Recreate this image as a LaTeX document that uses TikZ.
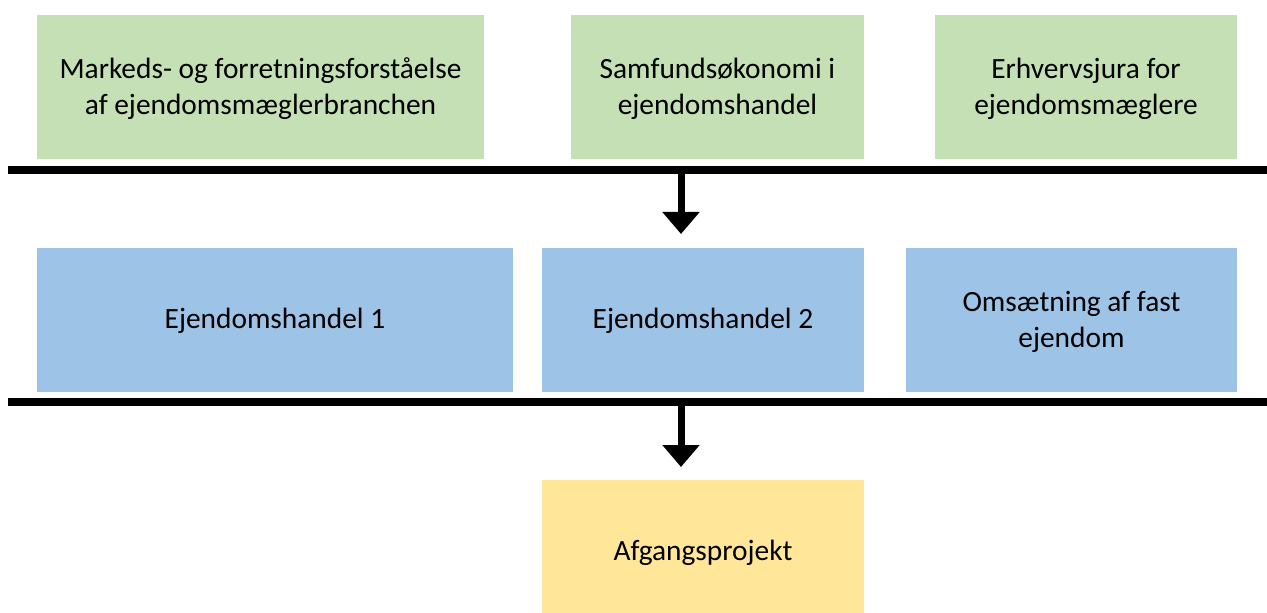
\documentclass[tikz,border=0pt]{standalone}
\usepackage{fontspec}
\setmainfont{Carlito}
\usetikzlibrary{arrows.meta}
\definecolor{cgreen}{HTML}{C5E0B4}
\definecolor{cblue}{HTML}{9DC3E6}
\definecolor{cyellow}{HTML}{FFE699}
\begin{document}
\begin{tikzpicture}[x=1bp,y=-1bp,
  box/.style={rectangle,inner sep=0pt,align=center,font=\fontsize{29.5}{36}\selectfont,text=black},
  bar/.style={line width=7.5bp,line cap=butt},
  down/.style={line width=7bp,-{Triangle[length=22bp,width=36bp]}}]
\useasboundingbox (0,0) rectangle (1267,613);
% boxes: corners given in pixels
\newcommand{\mybox}[6]{%
  \node[box,fill=#6,minimum width={(#3-#1)*1bp},minimum height={(#4-#2)*1bp}] (#5) at ({(#1+#3)/2},{(#2+#4)/2}) {};}
\mybox{37}{15}{484}{159}{g1}{cgreen}
\mybox{571}{15}{864}{159}{g2}{cgreen}
\mybox{935}{15}{1237}{159}{g3}{cgreen}
\mybox{37}{248}{513}{392}{b1}{cblue}
\mybox{542}{248}{864}{392}{b2}{cblue}
\mybox{906}{248}{1237}{392}{b3}{cblue}
\mybox{542}{480}{864}{613}{y1}{cyellow}
\node[box,yshift=-2bp] (tg1) at (g1) {Markeds- og forretningsforståelse\\af ejendomsmæglerbranchen};
\node[box,yshift=-2bp] (tg2) at (g2) {Samfundsøkonomi i\\ejendomshandel};
\node[box,yshift=-2bp] (tg3) at (g3) {Erhvervsjura for\\ejendomsmæglere};
\node[box,yshift=-1bp] (tb1) at (b1) {Ejendomshandel 1};
\node[box,yshift=-1bp] (tb2) at (b2) {Ejendomshandel 2};
\node[box,yshift=-2bp] (tb3) at (b3) {Omsætning af fast\\ejendom};
\node[box,yshift=-6bp] (ty1) at (y1) {Afgangsprojekt};
% bars
\coordinate (l1a) at (8,170);
\coordinate (l1b) at (1267,170);
\coordinate (l2a) at (8,402);
\coordinate (l2b) at (1267,402);
\draw[bar] (l1a) -- (l1b);
\draw[bar] (l2a) -- (l2b);
% arrows
\coordinate (a1s) at (681,170);
\coordinate (a1e) at (681,234);
\coordinate (a2s) at (681,402);
\coordinate (a2e) at (681,467);
\draw[down] (a1s) -- (a1e);
\draw[down] (a2s) -- (a2e);
\end{tikzpicture}
\end{document}
